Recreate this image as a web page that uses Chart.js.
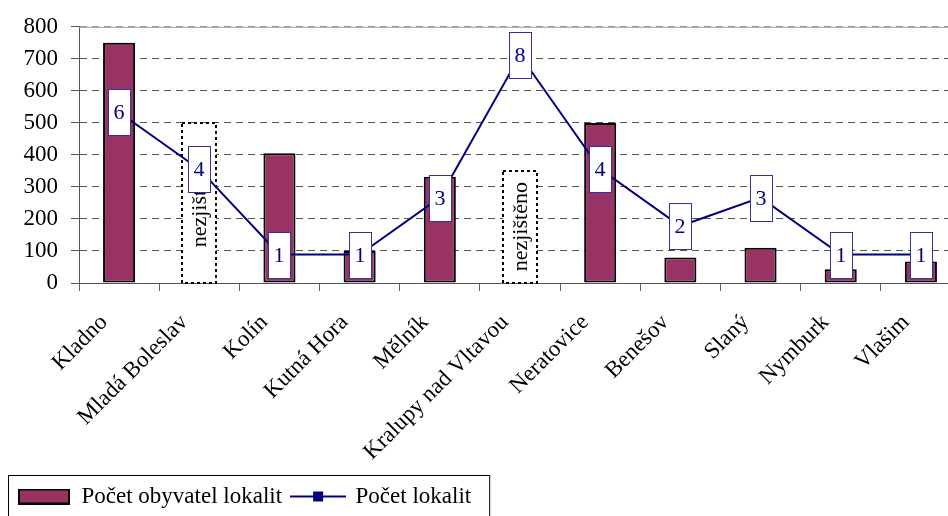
<!DOCTYPE html>
<html>
<head>
<meta charset="utf-8">
<script src="https://cdn.jsdelivr.net/npm/chart.js@4.4.0/dist/chart.umd.min.js"></script>
<style>
  html, body { margin: 0; padding: 0; background: #fff; }
  #wrap { width: 948px; height: 516px; overflow: hidden; }
  canvas { display: block; }
</style>
</head>
<body>
<div id="wrap"><canvas id="chart" width="965" height="518"></canvas></div>
<script>
const towns = ['Kladno', 'Mladá Boleslav', 'Kolín', 'Kutná Hora', 'Mělník', 'Kralupy nad Vltavou',
    'Neratovice', 'Benešov', 'Slaný', 'Nymburk', 'Vlašim'];
const population = [750, null, 405, 100, 332, null, 500, 80, 110, 43, 67];
// towns where the population is not known: just the dotted outline
const unknownPopulation = [null, 500, null, null, null, 350, null, null, null, null, null];
const sites = [6, 4, 1, 1, 3, 8, 4, 2, 3, 1, 1];
const yTicks = [0, 100, 200, 300, 400, 500, 600, 700, 800];
const unknownText = 'nezjištěno';

const serif = '"Liberation Serif", "Times New Roman", serif';
Chart.defaults.font.family = serif;
Chart.defaults.color = '#000';

/* legend swatches, drawn once into small canvases */
function swatch(w, h, draw) {
    const c = document.createElement('canvas');
    c.width = w; c.height = h;
    draw(c.getContext('2d'));
    return c;
}
const barSwatch = swatch(52, 16, ctx => {
    ctx.fillStyle = '#993366';
    ctx.fillRect(1, 1, 50, 14);
    ctx.strokeStyle = '#000';
    ctx.lineWidth = 2;
    ctx.strokeRect(1, 1, 50, 14);
});
const lineSwatch = swatch(56, 16, ctx => {
    ctx.strokeStyle = '#000080';
    ctx.lineWidth = 2;
    ctx.beginPath(); ctx.moveTo(0, 8); ctx.lineTo(56, 8); ctx.stroke();
    ctx.fillStyle = '#000080';
    ctx.fillRect(23, 3, 10, 10);
});

const extras = {
    id: 'extras',
    beforeDatasetsDraw(chart) {
        // solid frame line on top of the plot
        const { ctx, chartArea } = chart;
        ctx.save();
        ctx.strokeStyle = '#999';
        ctx.lineWidth = 1;
        ctx.beginPath();
        ctx.moveTo(chartArea.left, chartArea.top + 0.5);
        ctx.lineTo(chartArea.right, chartArea.top + 0.5);
        ctx.stroke();
        ctx.restore();
    },
    afterDatasetDraw(chart, args) {
        if (args.index !== 2) return;
        const ctx = chart.ctx;
        ctx.save();
        args.meta.data.forEach((bar, i) => {
            if (unknownPopulation[i] == null) return;
            const { x, y, base, width } = bar.getProps(['x', 'y', 'base', 'width'], true);
            ctx.strokeStyle = '#000';
            ctx.lineWidth = 2;
            ctx.setLineDash([3, 3]);
            ctx.strokeRect(Math.round(x - width / 2), Math.round(y), Math.round(width), Math.round(base - y));
            ctx.setLineDash([]);
            ctx.translate(x, (y + base) / 2);
            ctx.rotate(-Math.PI / 2);
            ctx.font = '22px ' + serif;
            ctx.fillStyle = '#000';
            ctx.textAlign = 'center';
            ctx.textBaseline = 'middle';
            ctx.fillText(unknownText, 0, 1);
            ctx.setTransform(1, 0, 0, 1, 0, 0);
        });
        ctx.restore();
    },
    afterDatasetsDraw(chart) {
        // white boxes with the number of sites
        const ctx = chart.ctx;
        const meta = chart.getDatasetMeta(1);
        ctx.save();
        ctx.font = '22px ' + serif;
        ctx.textAlign = 'center';
        ctx.textBaseline = 'middle';
        meta.data.forEach((pt, i) => {
            const x = Math.round(pt.x), y = Math.round(pt.y);
            ctx.fillStyle = '#fff';
            ctx.fillRect(x - 11, y - 23, 22, 46);
            ctx.strokeStyle = '#3333a0';
            ctx.lineWidth = 1;
            ctx.strokeRect(x - 10.5, y - 22.5, 22, 46);
            ctx.fillStyle = '#000080';
            ctx.fillText(String(sites[i]), x, y + 1);
        });
        ctx.restore();
    },
    afterDraw(chart) {
        // frame round the legend
        const lg = chart.legend;
        const boxes = lg.legendHitBoxes;
        const last = boxes[boxes.length - 1];
        const ctx = chart.ctx;
        ctx.save();
        ctx.strokeStyle = '#000';
        ctx.lineWidth = 1;
        ctx.strokeRect(lg.left + 0.5, lg.top + 0.5, last.left + last.width + 18 - lg.left, 60);
        ctx.restore();
    }
};

const config = {
    type: 'bar',
    data: {
        labels: towns,
        datasets: [{
            label: 'Počet obyvatel lokalit',
            data: population,
            backgroundColor: '#993366',
            borderColor: '#000',
            borderWidth: 2,
            borderSkipped: false,
            barPercentage: 0.4,
            categoryPercentage: 1,
            grouped: false,
            order: 1
        }, {
            type: 'line',
            label: 'Počet lokalit',
            data: sites,
            yAxisID: 'y2',
            borderColor: '#000080',
            borderWidth: 2,
            pointRadius: 0,
            tension: 0,
            order: 0
        }, {
            label: 'nezjištěno',
            data: unknownPopulation,
            backgroundColor: '#fff',
            borderWidth: 0,
            barPercentage: 0.42,
            categoryPercentage: 1,
            grouped: false,
            order: 2
        }]
    },
    options: {
        responsive: false,
        animation: false,
        layout: { padding: { left: 8, top: 24, right: 4, bottom: 0 } },
        scales: {
            x: {
                grid: { offset: true, drawOnChartArea: false, tickLength: 8, color: '#666' },
                border: { color: '#555' },
                ticks: {
                    minRotation: 45, maxRotation: 45, autoSkip: false,
                    padding: 18, labelOffset: -15,
                    font: { size: 23 }, color: '#000'
                },
                afterFit: s => { s.height = 192; }
            },
            y: {
                min: 0,
                max: 800,
                afterBuildTicks: s => { s.ticks = yTicks.map(v => ({ value: v })); },
                grid: {
                    color: c => c.index === yTicks.length - 1 ? '#999' : '#555',
                    tickLength: 8,
                    tickColor: '#555'
                },
                border: { dash: [7, 5], color: '#555' },
                ticks: { padding: 13, font: { size: 23 }, color: '#000' },
                afterFit: s => { s.width = 71; }
            },
            y2: { position: 'right', min: 0, max: 9, display: false }
        },
        plugins: {
            tooltip: { enabled: false },
            legend: {
                position: 'bottom',
                align: 'start',
                labels: {
                    usePointStyle: true,
                    pointStyleWidth: 52,
                    padding: 10,
                    font: { size: 23 },
                    color: '#000',
                    generateLabels: () => [
                        { text: 'Počet obyvatel lokalit', pointStyle: barSwatch, datasetIndex: 0, hidden: false, lineWidth: 0 },
                        { text: 'Počet lokalit', pointStyle: lineSwatch, datasetIndex: 1, hidden: false, lineWidth: 0 }
                    ]
                }
            }
        }
    },
    plugins: [extras]
};

new Chart(document.getElementById('chart'), config);
</script>
</body>
</html>
